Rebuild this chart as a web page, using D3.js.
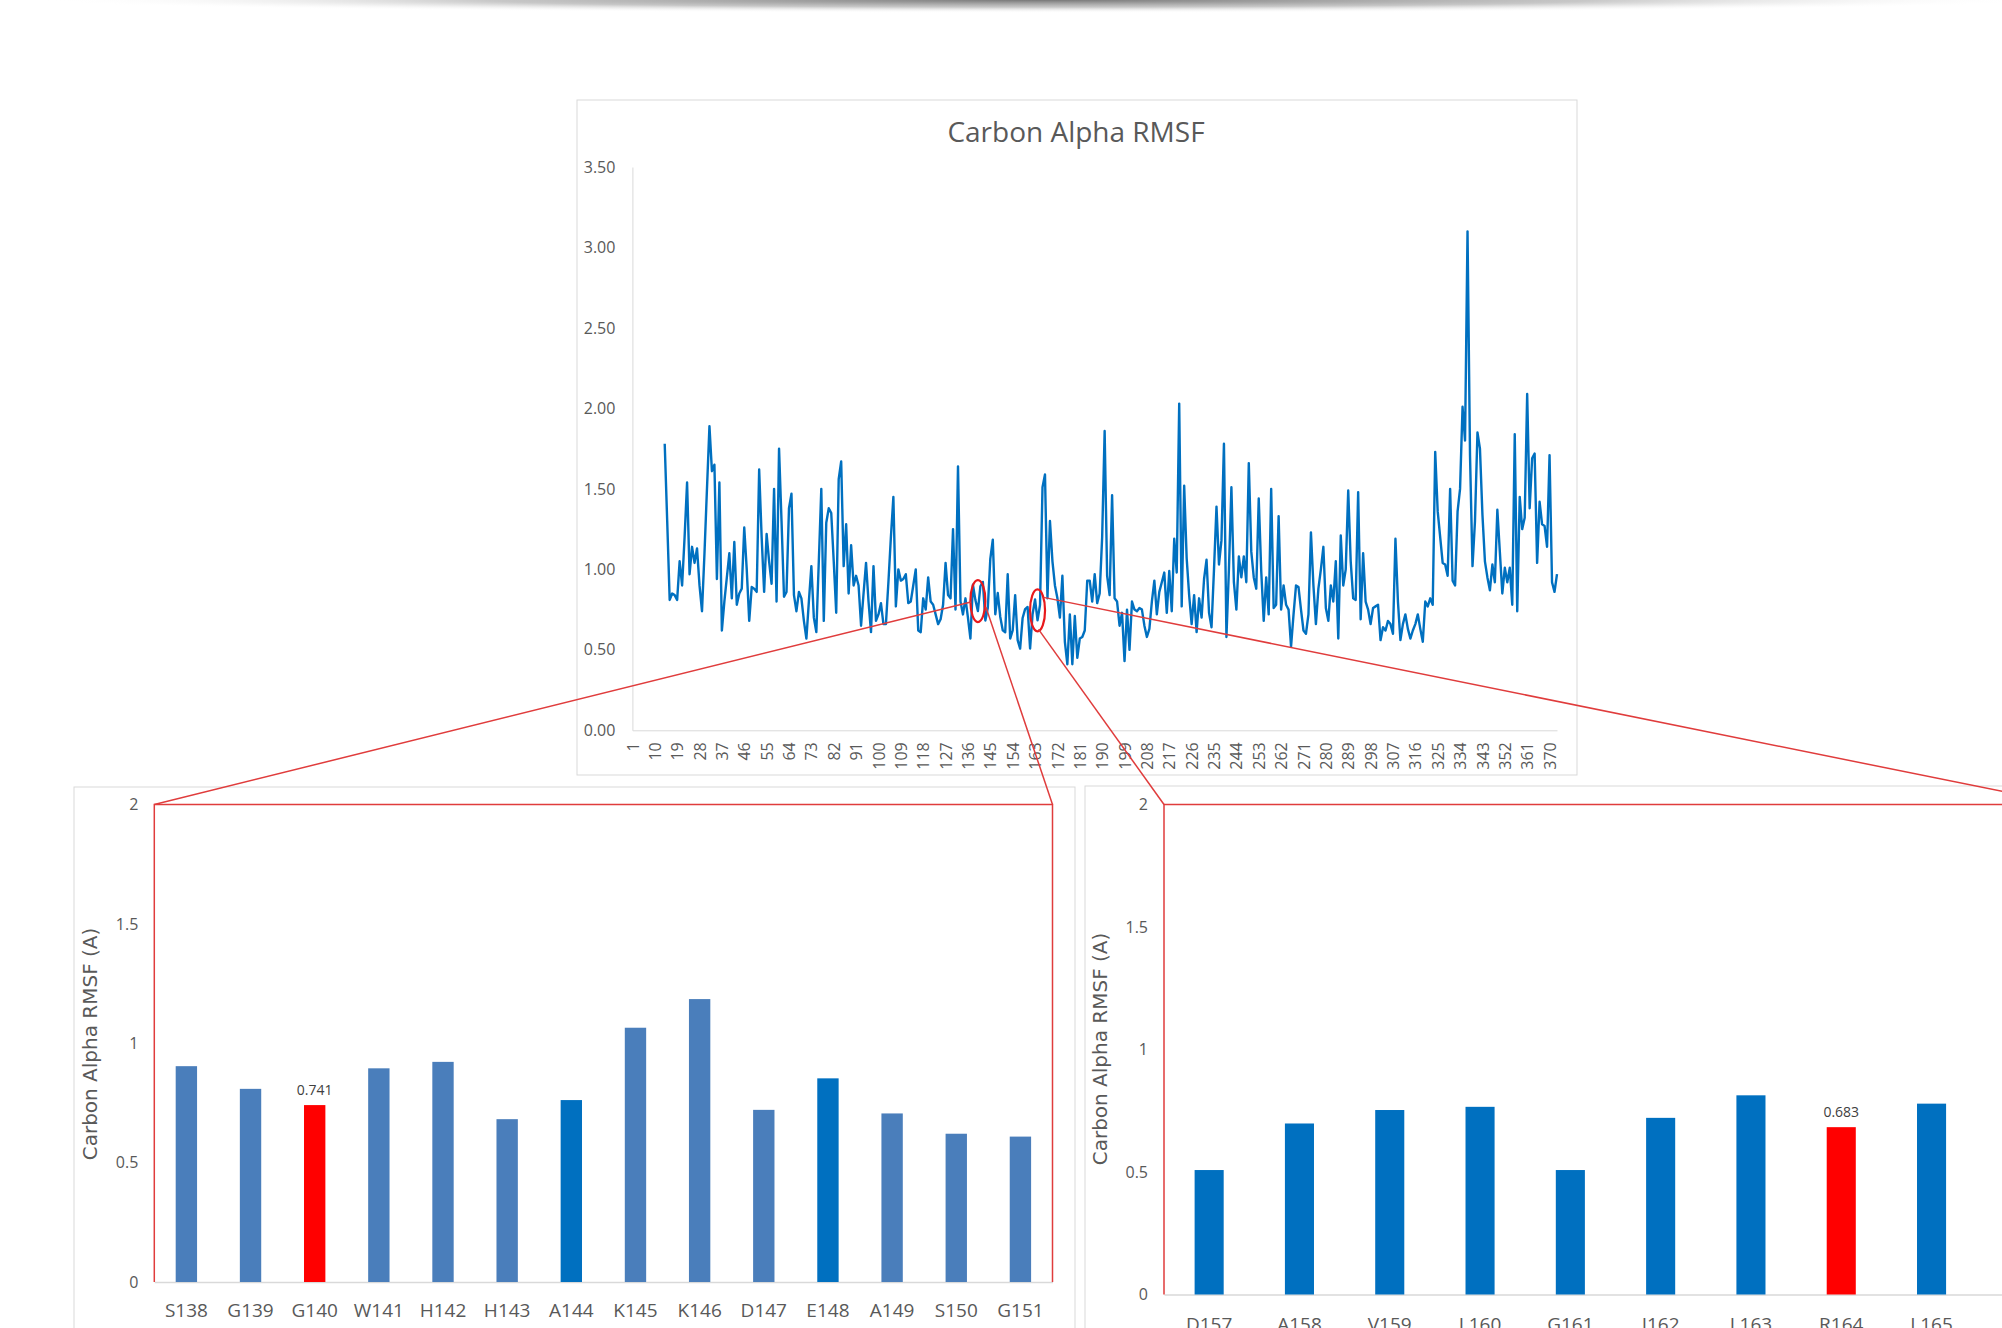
<!DOCTYPE html>
<html>
<head>
<meta charset="utf-8">
<script src="https://cdn.jsdelivr.net/npm/d3@7"></script>
<style>
  body { margin: 0; background: #ffffff; }
  svg { display: block; }
  text { font-family: "Open Sans", "Liberation Sans", sans-serif; fill: #595959; }
  .ytitle { font-family: "DejaVu Sans", "Open Sans", sans-serif; }
</style>
</head>
<body>
<div id="chart"></div>
<script>
// Carbon Alpha RMSF - full trace plus two zoomed residue windows

// top line chart: residue 14..373
var firstResidue = 14;
var rmsf = [
  1.78, 1.30, 0.81, 0.85, 0.84, 0.81, 1.05, 0.90, 1.20, 1.54, // 14-23
  0.97, 1.14, 1.04, 1.13, 0.90, 0.74, 1.10, 1.50, 1.89, 1.61, // 24-33
  1.65, 0.94, 1.54, 0.62, 0.80, 0.95, 1.10, 0.82, 1.17, 0.78, // 34-43
  0.85, 0.88, 1.26, 1.00, 0.68, 0.89, 0.88, 0.86, 1.62, 1.20, // 44-53
  0.86, 1.22, 1.05, 0.91, 1.50, 0.80, 1.75, 1.30, 0.83, 0.86, // 54-63
  1.38, 1.47, 0.84, 0.74, 0.86, 0.82, 0.68, 0.57, 0.80, 1.02, // 64-73
  0.70, 0.61, 1.05, 1.50, 0.68, 1.29, 1.38, 1.35, 1.05, 0.73, // 74-83
  1.56, 1.67, 1.02, 1.28, 0.85, 1.15, 0.90, 0.96, 0.90, 0.65, // 84-93
  0.85, 1.04, 0.80, 0.61, 1.02, 0.68, 0.72, 0.79, 0.66, 0.66, // 94-103
  0.92, 1.20, 1.45, 0.77, 1.00, 0.93, 0.94, 0.97, 0.79, 0.80, // 104-113
  0.90, 1.00, 0.62, 0.61, 0.82, 0.75, 0.95, 0.80, 0.78, 0.72, // 114-123
  0.66, 0.69, 0.78, 1.04, 0.84, 0.82, 1.25, 0.75, 1.64, 0.80, // 124-133
  0.72, 0.82, 0.70, 0.57, 0.904, 0.809, 0.741, 0.895, 0.922, 0.682, // 134-143
  0.762, 1.065, 1.185, 0.721, 0.853, 0.706, 0.621, 0.609, 0.97, 0.57, // 144-153
  0.62, 0.84, 0.56, 0.508, 0.698, 0.753, 0.766, 0.508, 0.721, 0.813, // 154-163
  0.683, 0.779, 1.51, 1.59, 0.82, 1.30, 1.05, 0.90, 0.82, 0.70, // 164-173
  0.96, 0.55, 0.41, 0.72, 0.41, 0.71, 0.45, 0.57, 0.58, 0.62, // 174-183
  0.93, 0.93, 0.80, 0.97, 0.79, 0.85, 1.20, 1.86, 0.96, 0.84, // 184-193
  1.46, 0.82, 0.80, 0.65, 0.73, 0.43, 0.75, 0.50, 0.80, 0.75, // 194-203
  0.74, 0.76, 0.75, 0.65, 0.58, 0.63, 0.80, 0.93, 0.72, 0.86, // 204-213
  0.92, 0.98, 0.73, 0.99, 0.74, 1.19, 0.98, 2.03, 0.77, 1.52, // 214-223
  1.07, 0.84, 0.66, 0.84, 0.61, 0.82, 0.70, 0.94, 1.06, 0.73, // 224-233
  0.64, 1.00, 1.39, 1.03, 1.18, 1.78, 0.58, 1.00, 1.51, 0.92, // 234-243
  0.75, 1.08, 0.95, 1.08, 0.92, 1.66, 1.11, 0.95, 0.88, 1.44, // 244-253
  0.99, 0.68, 0.95, 0.72, 1.50, 0.76, 0.78, 1.33, 0.75, 0.90, // 254-263
  0.78, 0.75, 0.52, 0.72, 0.90, 0.89, 0.75, 0.62, 0.60, 0.72, // 264-273
  1.23, 0.90, 0.66, 0.88, 1.00, 1.14, 0.76, 0.68, 0.90, 0.80, // 274-283
  1.05, 0.57, 1.21, 0.90, 1.00, 1.49, 1.05, 0.82, 0.81, 1.48, // 284-293
  0.69, 1.10, 0.80, 0.75, 0.66, 0.76, 0.77, 0.78, 0.56, 0.64, // 294-303
  0.62, 0.68, 0.66, 0.60, 1.19, 0.80, 0.56, 0.66, 0.72, 0.63, // 304-313
  0.57, 0.62, 0.66, 0.72, 0.63, 0.55, 0.80, 0.77, 0.82, 0.78, // 314-323
  1.73, 1.36, 1.20, 1.04, 1.03, 0.96, 1.50, 0.93, 0.90, 1.36, // 324-333
  1.50, 2.01, 1.80, 3.10, 1.71, 1.02, 1.30, 1.85, 1.75, 1.34, // 334-343
  1.05, 0.95, 0.87, 1.03, 0.92, 1.37, 1.11, 0.85, 1.01, 0.92, // 344-353
  1.01, 0.78, 1.84, 0.74, 1.45, 1.25, 1.32, 2.09, 1.38, 1.69, // 354-363
  1.72, 1.04, 1.42, 1.28, 1.27, 1.14, 1.71, 0.92, 0.86, 0.97  // 364-373
];
var topXTicks = [1, 10, 19, 28, 37, 46, 55, 64, 73, 82, 91, 100, 109, 118, 127,
  136, 145, 154, 163, 172, 181, 190, 199, 208, 217, 226, 235, 244, 253, 262,
  271, 280, 289, 298, 307, 316, 325, 334, 343, 352, 361, 370];
var topYTicks = [0, 0.5, 1, 1.5, 2, 2.5, 3, 3.5];

// zoom window 1 (around G140)
var leftResidues = ["S138", "G139", "G140", "W141", "H142", "H143", "A144",
  "K145", "K146", "D147", "E148", "A149", "S150", "G151"];
var leftValues = [0.904, 0.809, 0.741, 0.895, 0.922, 0.682, 0.762,
  1.065, 1.185, 0.721, 0.853, 0.706, 0.621, 0.609];

// zoom window 2 (around R164)
var rightResidues = ["D157", "A158", "V159", "L160", "G161", "I162", "L163",
  "R164", "L165", "I166"];
var rightValues = [0.508, 0.698, 0.753, 0.766, 0.508, 0.721, 0.813,
  0.683, 0.779, 1.51];

var barYTicks = [0, 0.5, 1, 1.5, 2];
var highlightLeft = "G140";
var highlightRight = "R164";
var darkLeft = ["A144", "E148"]; // drawn in the stronger blue

var svgWidth = 2002;
var svgHeight = 1328;

var svg = d3.select("#chart")
  .append("svg")
  .attr("width", svgWidth)
  .attr("height", svgHeight);

// soft page shadow along the top edge
var defs = svg.append("defs");
var shadow = defs.append("radialGradient")
  .attr("id", "topShadow")
  .attr("cx", "50%").attr("cy", "50%").attr("r", "50%");
shadow.append("stop").attr("offset", "0%").attr("stop-color", "#707070").attr("stop-opacity", 0.95);
shadow.append("stop").attr("offset", "55%").attr("stop-color", "#9a9a9a").attr("stop-opacity", 0.55);
shadow.append("stop").attr("offset", "100%").attr("stop-color", "#ffffff").attr("stop-opacity", 0);
svg.append("ellipse")
  .attr("cx", 1040).attr("cy", 0)
  .attr("rx", 1000).attr("ry", 13)
  .attr("fill", "url(#topShadow)");

// ---------------- top chart ----------------
svg.append("rect")
  .attr("x", 577).attr("y", 100)
  .attr("width", 1000).attr("height", 675)
  .attr("fill", "#ffffff")
  .attr("stroke", "#d9d9d9");

svg.append("text")
  .attr("x", 1076).attr("y", 142)
  .attr("text-anchor", "middle")
  .style("font-size", "28px")
  .text("Carbon Alpha RMSF");

var xTop = d3.scaleLinear().domain([1, 373]).range([632.4, 1557]);
var yTop = d3.scaleLinear().domain([0, 3.5]).range([730.3, 167]);

var topYAxis = svg.append("g")
  .attr("transform", "translate(632.4,0)")
  .call(d3.axisLeft(yTop).tickValues(topYTicks).tickSize(0).tickPadding(17)
    .tickFormat(d3.format(".2f")));
topYAxis.select(".domain").attr("stroke", "#d9d9d9");
topYAxis.selectAll("text").style("font-size", "16px").style("font-family", null);

var topXAxis = svg.append("g")
  .attr("transform", "translate(0,730.3)")
  .call(d3.axisBottom(xTop).tickValues(topXTicks).tickSize(0));
topXAxis.select(".domain").attr("stroke", "#d9d9d9");
topXAxis.selectAll("text")
  .attr("transform", "rotate(-90)")
  .attr("x", -12)
  .attr("y", 0)
  .attr("dy", "0.35em")
  .attr("text-anchor", "end")
  .style("font-size", "16px")
  .style("font-family", null);

var line = d3.line()
  .x((d, i) => xTop(firstResidue + i))
  .y(d => yTop(d));

svg.append("path")
  .datum(rmsf)
  .attr("d", line)
  .attr("fill", "none")
  .attr("stroke", "#0070c0")
  .attr("stroke-width", 2.4)
  .attr("stroke-linejoin", "round");

// ---------------- bar chart helper ----------------
function drawBars(opts) {
  // frame
  svg.append("rect")
    .attr("x", opts.frame[0]).attr("y", opts.frame[1])
    .attr("width", opts.frame[2]).attr("height", 700)
    .attr("fill", "#ffffff")
    .attr("stroke", "#d9d9d9");

  var x = d3.scaleBand()
    .domain(opts.names)
    .range(opts.xRange)
    .paddingInner(opts.pad)
    .paddingOuter(opts.pad / 2);
  var y = d3.scaleLinear().domain([0, 2]).range(opts.yRange);

  var yAxis = svg.append("g")
    .attr("transform", `translate(${opts.xRange[0]},0)`)
    .call(d3.axisLeft(y).tickValues(barYTicks).tickSize(0).tickPadding(16)
      .tickFormat(d3.format("")));
  yAxis.select(".domain").remove();
  yAxis.selectAll("text").style("font-size", "16px").style("font-family", null);

  var xAxis = svg.append("g")
    .attr("transform", `translate(0,${opts.yRange[0]})`)
    .call(d3.axisBottom(x).tickSize(0).tickPadding(opts.labelPad));
  xAxis.select(".domain").attr("stroke", "#d9d9d9").attr("stroke-width", 1.5);
  xAxis.selectAll("text").style("font-size", "19px").style("font-family", null);

  svg.append("g")
    .selectAll("rect")
    .data(opts.values)
    .enter()
    .append("rect")
    .attr("x", (d, i) => x(opts.names[i]))
    .attr("y", d => y(d))
    .attr("width", x.bandwidth())
    .attr("height", d => opts.yRange[0] - y(d))
    .attr("fill", (d, i) => opts.color(opts.names[i]));

  // value label on the highlighted bar
  var hi = opts.names.indexOf(opts.highlight);
  svg.append("text")
    .attr("x", x(opts.highlight) + x.bandwidth() / 2)
    .attr("y", y(opts.values[hi]) - 10)
    .attr("text-anchor", "middle")
    .style("font-size", "14px")
    .style("fill", "#404040")
    .text(d3.format(".3f")(opts.values[hi]));

  // axis title
  svg.append("text")
    .attr("class", "ytitle")
    .attr("transform", `translate(${opts.titleX},${opts.titleY}) rotate(-90)`)
    .attr("text-anchor", "middle")
    .style("font-size", "20px")
    .text("Carbon Alpha RMSF (A)");

  return { x: x, y: y };
}

var leftChart = drawBars({
  frame: [74, 787, 1001],
  names: leftResidues,
  values: leftValues,
  xRange: [154.3, 1052.5],
  yRange: [1282, 804.5],
  pad: 0.667,
  labelPad: 22,
  highlight: highlightLeft,
  titleX: 97, titleY: 1044,
  color: name => name === highlightLeft ? "#ff0000"
    : (darkLeft.indexOf(name) >= 0 ? "#0070c0" : "#4a7ebb")
});

var rightChart = drawBars({
  frame: [1085, 786, 1100],
  names: rightResidues,
  values: rightValues,
  xRange: [1164, 2067],
  yRange: [1294.5, 804.5],
  pad: 0.678,
  labelPad: 23,
  highlight: highlightRight,
  titleX: 1107, titleY: 1049,
  color: name => name === highlightRight ? "#ff0000" : "#0070c0"
});

// ---------------- zoom callouts ----------------
var red = "#e03c3c";

// three-sided boxes round each zoomed plot
function box(x0, x1, yTopPx, yBot) {
  svg.append("path")
    .attr("d", `M${x0},${yBot}V${yTopPx}H${x1}V${yBot}`)
    .attr("fill", "none")
    .attr("stroke", red)
    .attr("stroke-width", 1.5);
}
box(154.3, 1052.5, 804.5, 1282);
box(1164, 2067, 804.5, 1294.5);

// rings on the trace at the two residues
[140, 164].forEach(function(r) {
  var i = r - firstResidue;
  svg.append("ellipse")
    .attr("cx", xTop(r))
    .attr("cy", yTop(rmsf[i]) - 10)
    .attr("rx", 7.5)
    .attr("ry", 21)
    .attr("fill", "none")
    .attr("stroke", "#e8191c")
    .attr("stroke-width", 2.2);
});

var ring1 = { x: xTop(140), y: yTop(rmsf[140 - firstResidue]) - 10 };
var ring2 = { x: xTop(164), y: yTop(rmsf[164 - firstResidue]) - 10 };

var connectors = [
  [[154.3, 804.5], [ring1.x - 7, ring1.y + 1]],
  [[ring1.x + 8, ring1.y + 6], [1052.5, 804.5]],
  [[ring2.x + 1, ring2.y + 19], [1164, 804.5]],
  [[ring2.x + 6, ring2.y - 13], [2067, 804.5]]
];
svg.append("g")
  .selectAll("line")
  .data(connectors)
  .enter()
  .append("line")
  .attr("x1", d => d[0][0]).attr("y1", d => d[0][1])
  .attr("x2", d => d[1][0]).attr("y2", d => d[1][1])
  .attr("stroke", red)
  .attr("stroke-width", 1.5);
</script>
</body>
</html>
